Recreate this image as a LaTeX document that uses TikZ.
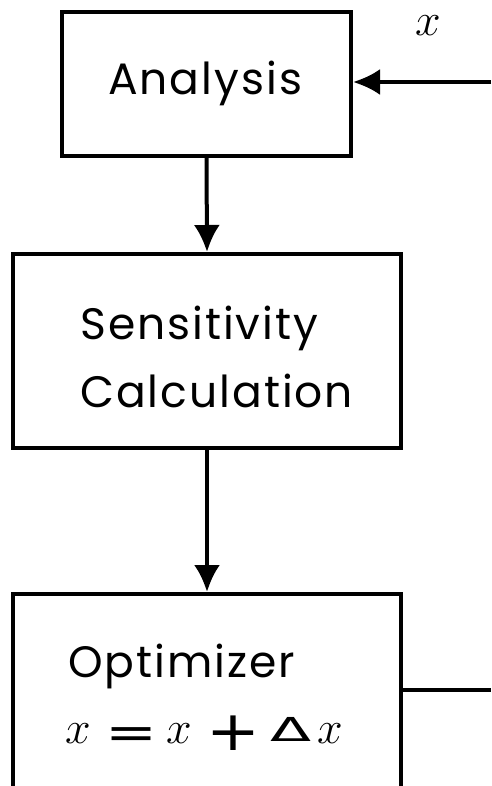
\RequirePackage{fix-cm}
\documentclass[tikz,border=0pt]{standalone}
\usepackage{fontspec}
\setmainfont{Poppins}[LetterSpace=4.5]
\newfontfamily\symfont{DejaVu Sans}
\usetikzlibrary{arrows.meta}
\begin{document}
\begin{tikzpicture}[x=1pt,y=-1pt,
  box/.style={draw, line width=4pt, inner sep=0pt},
  lbl/.style={anchor=base west, inner sep=0pt, font=\fontsize{44}{52}\selectfont},
  mth/.style={anchor=base west, inner sep=0pt, font=\fontsize{46}{52}\selectfont},
  flow/.style={line width=4pt, -{Latex[length=27pt,width=26pt]}}]
\useasboundingbox (0,0) rectangle (491,786);
\clip (0,0) rectangle (491,786);
\node[box, minimum width=289pt, minimum height=144pt] (ana) at (206.5,84) {};
\node[box, minimum width=388pt, minimum height=194pt] (sen) at (207,351) {};
\node[box, minimum width=388pt, minimum height=220pt] (opt) at (207,704) {};
\node[lbl] (tana) at (108,95) {Analysis};
\node[lbl] (tsen1) at (80,339) {Sensitivity};
\node[lbl] (tsen2) at (80,407) {Calculation};
\node[lbl] (topt1) at (68,677) {Optimizer};
\node[mth] (topt2) at (65,743) {\makebox[40pt][l]{$x$}\makebox[61pt][l]{\raisebox{-5pt}{\symfont\scalebox{1.35}[1]{=}}}\makebox[40pt][l]{$x$}\makebox[64pt][l]{\raisebox{-7pt}{\symfont\scalebox{1.4}[1.2]{+}}}\makebox[47pt][l]{\raisebox{2pt}{\symfont\fontsize{60}{60}\selectfont\scalebox{1}[0.55]{Δ}}}$x$};
\node[mth] (xin) at (415,36) {$x$};
\coordinate (inR) at (491,82);
\coordinate (outR) at (491,690);
\draw[flow] (inR) -- (inR -| ana.east);
\draw[flow] (ana.south) -- (sen.north);
\draw[flow] (sen.south) -- (opt.north);
\draw[line width=4pt] (opt.east |- outR) -- (outR);
\end{tikzpicture}
\end{document}
